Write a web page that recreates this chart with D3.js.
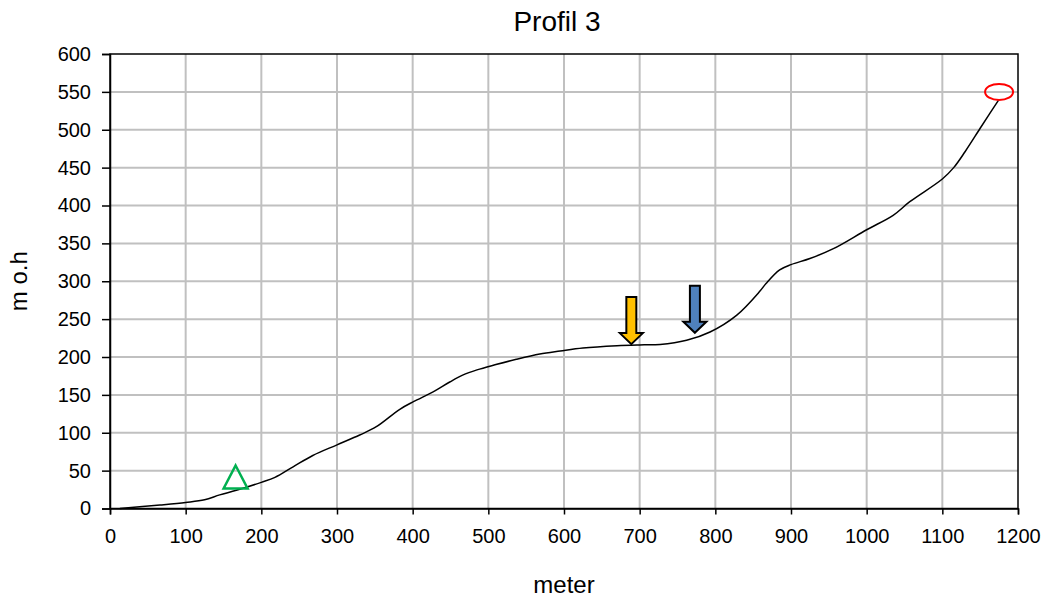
<!DOCTYPE html>
<html><head><meta charset="utf-8">
<script src="https://cdn.jsdelivr.net/npm/d3@7"></script>
<style>body{margin:0;background:#fff}svg{display:block;font-family:"Liberation Sans",Arial,sans-serif}</style>
</head><body><svg id="c" width="1046" height="598"></svg>
<script>
const distance = [13, 66, 100, 125, 145, 167, 200, 218, 242, 268, 300, 330, 352, 383, 401, 427, 449, 466, 485, 510, 537, 568, 595, 625, 670, 700, 727, 762, 793, 828, 859, 867, 885, 900, 925, 956, 1000, 1035, 1057, 1100, 1115, 1130, 1150, 1163, 1175];
const elevation = [0, 4.6, 8, 11.5, 18, 24, 34.5, 41, 55, 70, 84, 97, 108, 131, 141, 154, 167, 176, 183, 190, 197, 204, 208, 212, 215, 216, 216.5, 222, 233, 255, 287, 297, 315, 322, 330, 343, 368, 387, 405, 435, 450, 471, 502, 522, 540];
const xTicks = [0,100,200,300,400,500,600,700,800,900,1000,1100,1200];
const yTicks = [0,50,100,150,200,250,300,350,400,450,500,550,600];
const triangleMark = {x:166, y:37};
const arrowYellow = {x:689, y:217};
const arrowBlue = {x:773, y:232};
const ellipseMark = {x:1175, y:550};

const svg = d3.select("#c");
const L=110, R=1018, T=54, B=508.5;
const x = d3.scaleLinear().domain([0,1200]).range([L,R]);
const y = d3.scaleLinear().domain([0,600]).range([B,T]);

// grid
svg.append("g").selectAll("line.v").data(xTicks.slice(1,-1)).join("line")
  .attr("x1",d=>x(d)).attr("x2",d=>x(d)).attr("y1",T).attr("y2",B)
  .attr("stroke","#c0c0c0").attr("stroke-width",2);
svg.append("g").selectAll("line.h").data(yTicks.slice(1,-1)).join("line")
  .attr("y1",d=>y(d)).attr("y2",d=>y(d)).attr("x1",L).attr("x2",R)
  .attr("stroke","#c0c0c0").attr("stroke-width",2);
// border
svg.append("rect").attr("x",L).attr("y",T).attr("width",R-L).attr("height",B-T)
  .attr("fill","none").attr("stroke","#000").attr("stroke-width",1.5);

const xAxis = svg.append("g").attr("transform",`translate(0,${B})`)
  .call(d3.axisBottom(x).tickValues(xTicks).tickSize(6).tickPadding(14).tickFormat(d3.format("d")));
const yAxis = svg.append("g").attr("transform",`translate(${L},0)`)
  .call(d3.axisLeft(y).tickValues(yTicks).tickSize(8).tickPadding(11).tickFormat(d3.format("d")));
[xAxis,yAxis].forEach(a=>{
  a.select(".domain").attr("stroke","#000").attr("stroke-width",1.5);
  a.selectAll(".tick line").attr("stroke","#000").attr("stroke-width",1.5);
  a.selectAll("text").attr("fill","#000").style("font-size","20px").style("font-family","Liberation Sans, Arial, sans-serif");
});

// line
const line = d3.line().x((d,i)=>x(distance[i])).y(d=>y(d)).curve(d3.curveCatmullRom.alpha(0.5));
svg.append("path").datum(elevation).attr("d",line).attr("fill","none")
  .attr("stroke","#000").attr("stroke-width",1.5);

// triangle
{
  const cx=x(triangleMark.x), cy=y(triangleMark.y);
  svg.append("path").attr("d",`M${cx},${cy-15} L${cx+12},${cy+8} L${cx-12},${cy+8} Z`)
    .attr("fill","none").attr("stroke","#00b050").attr("stroke-width",2.5);
}
// arrows
function arrow(m,fill){
  const tx=x(m.x), ty=y(m.y);
  const p=[[tx,ty],[tx+11.5,ty-11],[tx+5,ty-11],[tx+5,ty-47],[tx-5,ty-47],[tx-5,ty-11],[tx-11.5,ty-11]];
  svg.append("path").attr("d","M"+p.map(q=>q.join(",")).join("L")+"Z")
    .attr("fill",fill).attr("stroke","#000").attr("stroke-width",2).attr("stroke-linejoin","miter");
}
arrow(arrowYellow,"#ffc000");
arrow(arrowBlue,"#4f81bd");
// ellipse
svg.append("ellipse").attr("cx",x(ellipseMark.x)).attr("cy",y(ellipseMark.y)).attr("rx",14).attr("ry",8)
  .attr("fill","none").attr("stroke","#ff0000").attr("stroke-width",2);

// titles
svg.append("text").attr("x",557).attr("y",31).attr("text-anchor","middle").style("font-size","28px").text("Profil 3");
svg.append("text").attr("x",(L+R)/2).attr("y",593).attr("text-anchor","middle").style("font-size","24px").text("meter");
svg.append("text").attr("transform",`translate(27,${(T+B)/2}) rotate(-90)`).attr("text-anchor","middle").style("font-size","24px").text("m o.h");
</script></body></html>
